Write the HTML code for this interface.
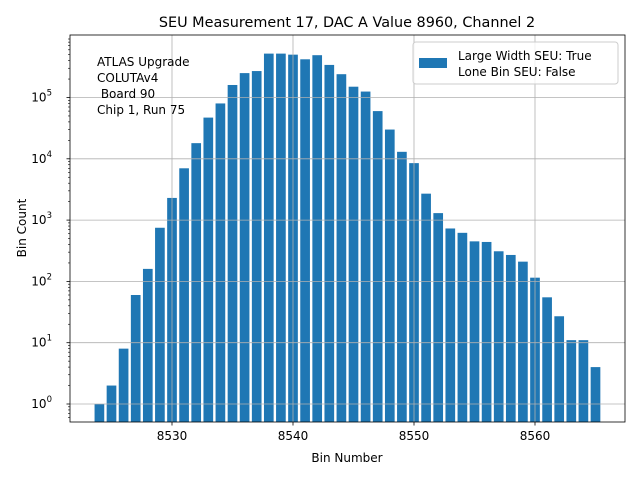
<!DOCTYPE html>
<html><head><meta charset="utf-8"><style>
body{margin:0;background:#fff;font-family:"DejaVu Sans","Liberation Sans",sans-serif}
svg text{font-family:"DejaVu Sans","Liberation Sans",sans-serif}
</style></head><body>
<svg id="c" width="640" height="480" xmlns="http://www.w3.org/2000/svg">
<rect width="640" height="480" fill="#fff"/>
<text x="347" y="27" font-size="14.4" text-anchor="middle">SEU Measurement 17, DAC A Value 8960, Channel 2</text>
<g id="bars"></g>
<g id="grid"></g>
<g id="ticks"></g>
<rect x="70" y="35" width="555" height="387" fill="none" stroke="#000" stroke-width="0.8"/>
<text x="347" y="462" font-size="12" text-anchor="middle">Bin Number</text>
<text transform="translate(26,228) rotate(-90)" font-size="12" text-anchor="middle">Bin Count</text>
<g font-size="12">
<text x="97" y="66">ATLAS Upgrade</text>
<text x="97" y="82">COLUTAv4</text>
<text x="97" y="98">&#160;Board 90</text>
<text x="97" y="114">Chip 1, Run 75</text>
</g>
<g>
<rect x="413" y="42" width="205" height="42" fill="#fff" fill-opacity="0.8" stroke="#ccc" rx="3"/>
<rect x="419" y="58" width="28" height="10" fill="#1f77b4"/>
<text x="458" y="60" font-size="12">Large Width SEU: True</text>
<text x="458" y="76" font-size="12">Lone Bin SEU: False</text>
</g>
</svg>
<script>
const bins=[8524,8525,8526,8527,8528,8529,8530,8531,8532,8533,8534,8535,8536,8537,8538,8539,8540,8541,8542,8543,8544,8545,8546,8547,8548,8549,8550,8551,8552,8553,8554,8555,8556,8557,8558,8559,8560,8561,8562,8563,8564,8565];
const counts=[1,2,8,60,160,750,2300,7000,18000,47000,80000,160000,250000,270000,520000,520000,500000,420000,490000,340000,240000,150000,125000,60000,30000,13000,8500,2700,1300,730,620,450,440,310,270,210,115,55,27,11,11,4];
const xTicks=[8530,8540,8550,8560];
const yTicks=[0,1,2,3,4,5];
const NS='http://www.w3.org/2000/svg';
const X=v=>172+(v-8530)*12.1;
const Y=v=>404-Math.log10(v)*61.3;
const B=422;
const bars=document.getElementById('bars'),grid=document.getElementById('grid'),ticks=document.getElementById('ticks');
function mk(tag,a,p){const e=document.createElementNS(NS,tag);for(const k in a)e.setAttribute(k,a[k]);p.appendChild(e);return e;}
bins.forEach((b,i)=>{
 const y=Y(counts[i]);
 const r=mk('rect',{x:X(b-0.4),y:y,width:12.1*0.8,height:B-y,fill:'#1f77b4'},bars);
 
 
});
xTicks.forEach(t=>{
 const x=X(t);
 const g=mk('line',{x1:x,x2:x,y1:35,y2:422,stroke:'#b0b0b0','stroke-width':0.8},grid);
 
 
 mk('line',{x1:x,x2:x,y1:422,y2:425.5,stroke:'#000','stroke-width':0.8},ticks);
 const tx=mk('text',{x:x,y:440,'font-size':12,'text-anchor':'middle'},ticks);
 tx.textContent=t;
 
 
});
yTicks.forEach(t=>{
 const y=Y(Math.pow(10,t));
 const g=mk('line',{x1:70,x2:625,y1:y,y2:y,stroke:'#b0b0b0','stroke-width':0.8},grid);
 
 
 mk('line',{x1:66.5,x2:70,y1:y,y2:y,stroke:'#000','stroke-width':0.8},ticks);
 const tx=mk('text',{x:52,y:y+4,'font-size':12,'text-anchor':'end'},ticks);
 tx.textContent='10';
 const s=mk('tspan',{dy:-6,'font-size':8.5},tx);s.textContent=t;
 
 
});
for(let d=-1;d<=5;d++){for(let m=2;m<10;m++){const yy=Y(m*Math.pow(10,d));if(yy<35||yy>422)continue;
  mk('line',{x1:68,x2:70,y1:yy,y2:yy,stroke:'#000','stroke-width':0.6},ticks);}}
</script>
</body></html>
